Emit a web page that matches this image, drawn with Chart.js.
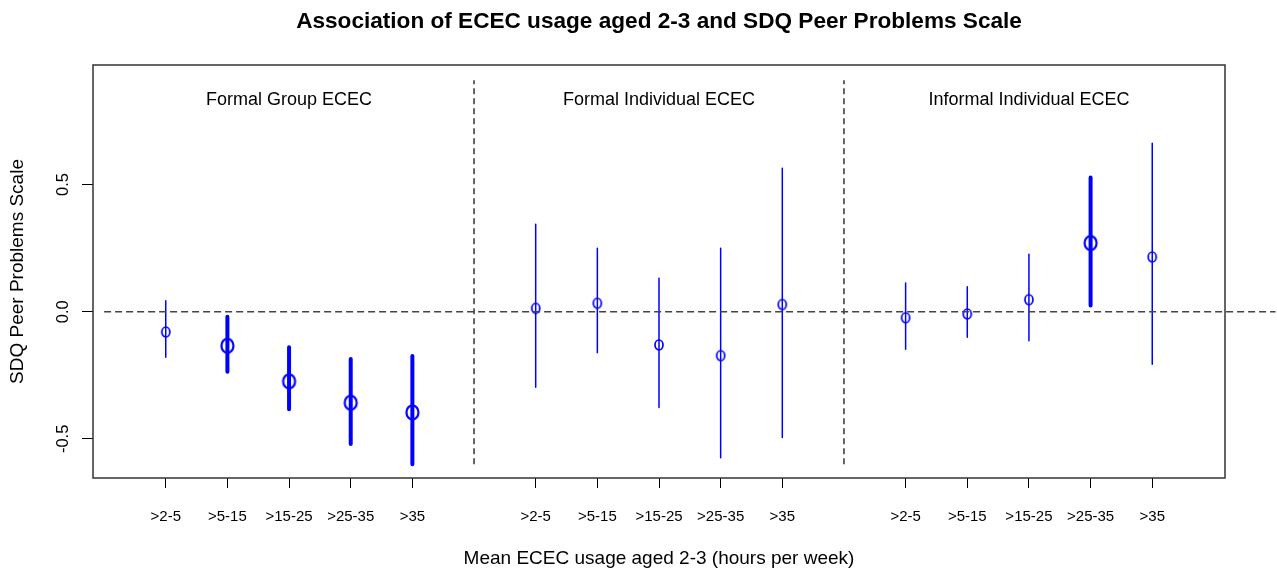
<!DOCTYPE html>
<html>
<head>
<meta charset="utf-8">
<script src="https://cdn.jsdelivr.net/npm/chart.js@4"></script>
<style>
  html, body { margin: 0; padding: 0; background: #fff; }
</style>
</head>
<body>
<canvas id="ececChart" width="1277" height="573"></canvas>
<script>
// ---- data ----
const titleText = "Association of ECEC usage aged 2-3 and SDQ Peer Problems Scale";
const xTitle = "Mean ECEC usage aged 2-3 (hours per week)";
const yTitle = "SDQ Peer Problems Scale";

const groups = ["Formal Group ECEC", "Formal Individual ECEC", "Informal Individual ECEC"];
const categories = [">2-5", ">5-15", ">15-25", ">25-35", ">35"];

// one value per category, group after group
const estimates = [-0.080, -0.134, -0.274, -0.358, -0.396,
                    0.013,  0.033, -0.131, -0.173,  0.028,
                   -0.024, -0.009,  0.047,  0.270,  0.215];
const lower     = [-0.179, -0.236, -0.384, -0.520, -0.600,
                   -0.297, -0.161, -0.377, -0.574, -0.495,
                   -0.148, -0.101, -0.114,  0.024, -0.207];
const upper     = [ 0.043, -0.020, -0.140, -0.186, -0.174,
                    0.344,  0.249,  0.131,  0.249,  0.564,
                    0.113,  0.098,  0.226,  0.528,  0.662];
const significant = [0, 1, 1, 1, 1,
                     0, 0, 0, 0, 0,
                     0, 0, 0, 1, 0];

const yTicks = [-0.5, 0, 0.5];
const yTickLabels = ["-0.5", "0.0", "0.5"];
const separators = [6, 12];
const separatorSpan = [-0.6, 0.91];
const zeroSpan = [0, 19];
const groupLabelY = 0.835;

// x slot of each estimate: 1..5, 7..11, 13..17
const xPos = estimates.map((_, i) => Math.floor(i / 5) * 6 + (i % 5) + 1);
const xLabels = estimates.map((_, i) => categories[i % 5]);

const FONT = '"Liberation Sans", Arial, Helvetica, sans-serif';
const BLUE = "#0000ff";

function ring(rx, ry, lw) {
  const c = document.createElement("canvas");
  c.width = Math.ceil(rx * 2 + lw * 2);
  c.height = Math.ceil(ry * 2 + lw * 2);
  const g = c.getContext("2d");
  g.strokeStyle = BLUE;
  g.lineWidth = lw;
  g.beginPath();
  g.ellipse(c.width / 2, c.height / 2, rx, ry, 0, 0, Math.PI * 2);
  g.stroke();
  return c;
}
const smallRing = ring(4, 5, 1.7);
const bigRing = ring(6, 7, 2.2);

function bars(flag) {
  const pts = [];
  estimates.forEach((_, i) => {
    if (significant[i] !== flag) return;
    pts.push({ x: xPos[i], y: lower[i] }, { x: xPos[i], y: upper[i] }, { x: xPos[i], y: null });
  });
  return pts;
}

function dots(flag) {
  return estimates.map((v, i) => ({ x: xPos[i], y: v })).filter((_, i) => significant[i] === flag);
}

const sepData = [];
separators.forEach(s => {
  sepData.push({ x: s, y: separatorSpan[0] }, { x: s, y: separatorSpan[1] }, { x: s, y: null });
});

const decor = {
  id: "decor",
  afterDraw(chart) {
    const { ctx, chartArea: a, scales: { x, y } } = chart;
    const cx = (a.left + a.right) / 2;
    ctx.save();
    ctx.strokeStyle = "#333";
    ctx.lineWidth = 1.5;
    ctx.strokeRect(a.left, a.top, a.right - a.left, a.bottom - a.top);

    ctx.fillStyle = "#000";
    ctx.textAlign = "center";
    ctx.textBaseline = "alphabetic";

    ctx.font = "bold 22.6px " + FONT;
    ctx.fillText(titleText, cx, 28);

    ctx.font = "18px " + FONT;
    groups.forEach((g, i) => {
      ctx.fillText(g, x.getPixelForValue(i * 6 + 3), y.getPixelForValue(groupLabelY) + 6);
    });

    ctx.font = "19px " + FONT;
    ctx.fillText(xTitle, cx, 564);

    ctx.font = "16.5px " + FONT;
    yTicks.forEach((v, i) => {
      ctx.save();
      ctx.translate(67.5, y.getPixelForValue(v));
      ctx.rotate(-Math.PI / 2);
      ctx.fillText(yTickLabels[i], 0, 0);
      ctx.restore();
    });

    ctx.font = "19px " + FONT;
    ctx.save();
    ctx.translate(22.5, (a.top + a.bottom) / 2);
    ctx.rotate(-Math.PI / 2);
    ctx.fillText(yTitle, 0, 0);
    ctx.restore();
    ctx.restore();
  }
};

new Chart(document.getElementById("ececChart"), {
  type: "line",
  data: {
    datasets: [
      {
        data: [{ x: zeroSpan[0], y: 0 }, { x: zeroSpan[1], y: 0 }],
        borderColor: "#444", borderWidth: 1.6, borderDash: [7, 4],
        pointRadius: 0, clip: false
      },
      {
        data: sepData,
        borderColor: "#000", borderWidth: 1.2, borderDash: [6, 4],
        pointRadius: 0, spanGaps: false
      },
      {
        data: bars(0),
        borderColor: BLUE, borderWidth: 1.5, borderCapStyle: "round",
        pointRadius: 0, spanGaps: false
      },
      {
        data: bars(1),
        borderColor: BLUE, borderWidth: 4, borderCapStyle: "round",
        pointRadius: 0, spanGaps: false
      },
      {
        data: dots(0), showLine: false,
        pointStyle: smallRing, pointRadius: 5
      },
      {
        data: dots(1), showLine: false,
        pointStyle: bigRing, pointRadius: 7
      }
    ]
  },
  options: {
    responsive: false,
    animation: false,
    layout: { padding: { top: 65, right: 52, left: 0, bottom: 0 } },
    plugins: { legend: { display: false }, tooltip: { enabled: false }, title: { display: false } },
    scales: {
      x: {
        type: "linear",
        min: -0.18, max: 18.18,
        afterBuildTicks: s => { s.ticks = xPos.map(v => ({ value: v })); },
        afterFit: s => { s.height = 95; },
        border: { display: false },
        grid: { drawOnChartArea: false, tickLength: 10, tickColor: "#000", lineWidth: 1 },
        ticks: {
          autoSkip: false, maxRotation: 0, padding: 20,
          color: "#000", font: { family: FONT, size: 15 },
          callback: (v, i) => xLabels[i]
        }
      },
      y: {
        type: "linear",
        min: -0.654, max: 0.970,
        afterBuildTicks: s => { s.ticks = yTicks.map(v => ({ value: v })); },
        afterFit: s => { s.width = 93; },
        border: { display: false },
        grid: { drawOnChartArea: false, tickLength: 11, tickColor: "#000", lineWidth: 1 },
        ticks: { display: false }
      }
    }
  },
  plugins: [decor]
});
</script>
</body>
</html>
